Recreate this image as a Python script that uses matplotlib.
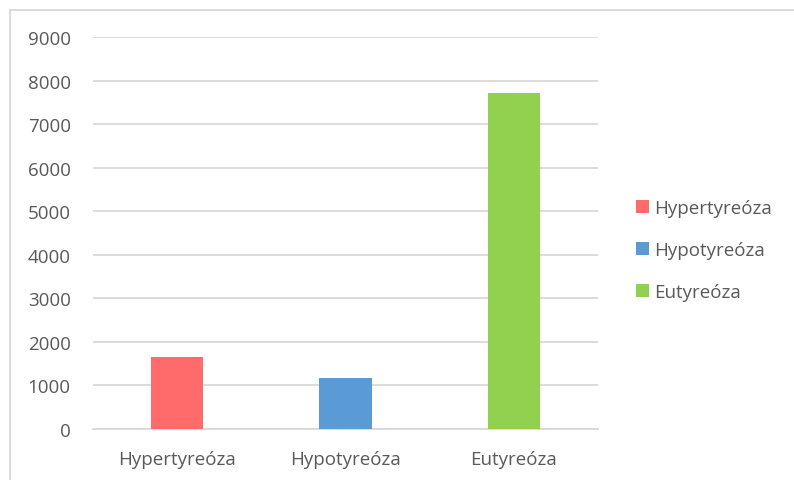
import matplotlib
matplotlib.use("Agg")
import matplotlib.pyplot as plt
from matplotlib.lines import Line2D
from matplotlib.patches import Patch

categories = ["Hypertyreóza", "Hypotyreóza", "Eutyreóza"]
values = [1650, 1170, 7710]
colors = ["#FF6B6B", "#5B9BD5", "#92D050"]
yticks = [0, 1000, 2000, 3000, 4000, 5000, 6000, 7000, 8000, 9000]

plt.rcParams['font.family'] = ['Open Sans', 'DejaVu Sans']
text_color = "#595959"
grid_color = "#D9D9D9"
fs = 13.5

W, H = 794, 481
fig = plt.figure(figsize=(W / 100, H / 100), dpi=100)
ax = fig.add_axes([93 / W, 1 - 430 / H, (598 - 93) / W, (430 - 38) / H])

x = list(range(len(categories)))
ax.bar(x, values, width=0.31, color=colors, zorder=3)
ax.set_xlim(-0.5, len(categories) - 0.5)
ax.set_ylim(0, 9000)
ax.set_yticks(yticks)
ax.set_yticklabels([str(t) for t in yticks])
ax.set_xticks(x)
ax.set_xticklabels(categories)
ax.grid(axis='y', color=grid_color, linewidth=1.3, zorder=0)
for s in ['top', 'right', 'left']:
    ax.spines[s].set_visible(False)
ax.spines['bottom'].set_color(grid_color)
ax.spines['bottom'].set_linewidth(1.3)
ax.tick_params(axis='both', length=0, labelsize=fs, colors=text_color)
ax.tick_params(axis='y', pad=16)
ax.tick_params(axis='x', pad=15)

handles = [Patch(facecolor=c, edgecolor='none') for c in colors]
leg = fig.legend(handles, categories, loc='center left', bbox_to_anchor=(619 / W, 1 - 251 / H),
                 frameon=False, fontsize=fs, handlelength=0.7, handleheight=0.7,
                 handletextpad=0.3, labelspacing=1.3, labelcolor=text_color)

# outer frame (partially visible)
fig.add_artist(Line2D([9.5 / W, 1.0], [1 - 10.5 / H, 1 - 10.5 / H], color=grid_color, linewidth=1.3,
                      transform=fig.transFigure))
fig.add_artist(Line2D([9.5 / W, 9.5 / W], [0, 1 - 10.5 / H], color=grid_color, linewidth=1.3,
                      transform=fig.transFigure))

fig.savefig("out.png", dpi=100)
